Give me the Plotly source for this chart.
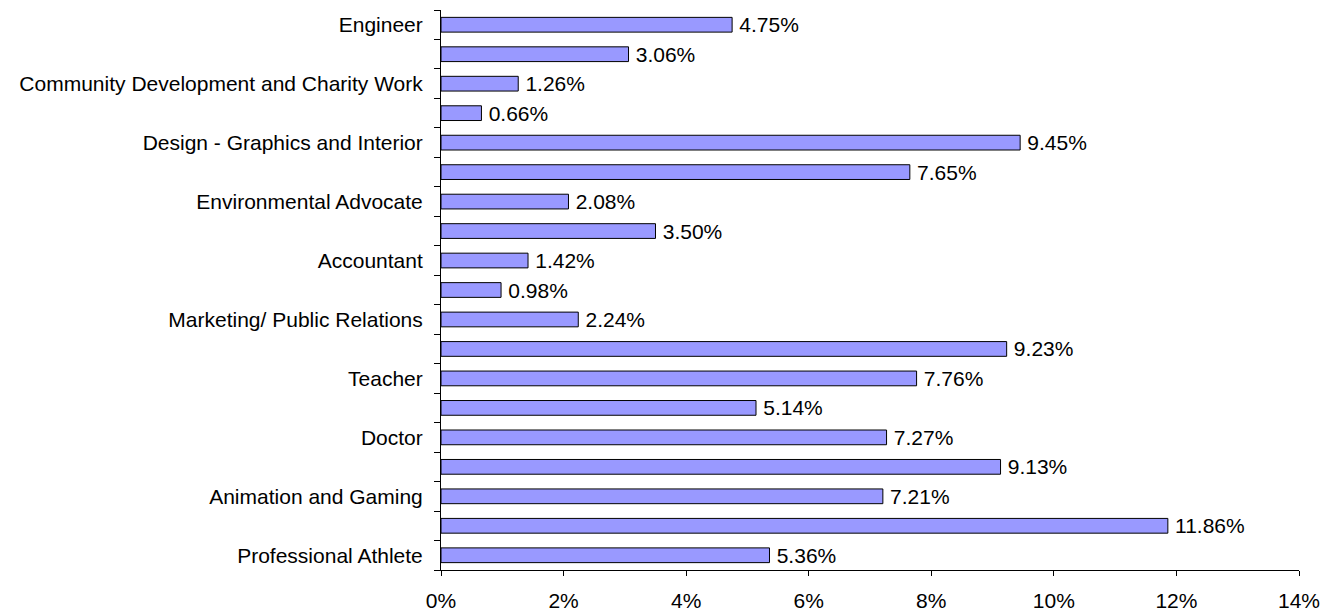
import plotly.graph_objects as go

# categories from bottom to top ("" = label not shown in the reference)
categories = ["Professional Athlete", "", "Animation and Gaming", "", "Doctor", "",
              "Teacher", "", "Marketing/ Public Relations", "", "Accountant", "",
              "Environmental Advocate", "", "Design - Graphics and Interior", "",
              "Community Development and Charity Work", "", "Engineer"]
values = [5.36, 11.86, 7.21, 9.13, 7.27, 5.14, 7.76, 9.23, 2.24, 0.98, 1.42, 3.50,
          2.08, 7.65, 9.45, 0.66, 1.26, 3.06, 4.75]
x_ticks = [0, 2, 4, 6, 8, 10, 12, 14]
x_labels = [f"{t}%" for t in x_ticks]

positions = list(range(len(categories)))
font = dict(family="Liberation Sans, Arial, sans-serif", size=21, color="black")

fig = go.Figure(go.Bar(
    x=values, y=positions, orientation="h",
    marker=dict(color="#9999FF", line=dict(color="black", width=1)),
    text=[f"\u2009{v:.2f}%" for v in values], textposition="outside",
    textfont=font, cliponaxis=False, width=0.5, constraintext="none",
))

fig.update_layout(
    width=1337, height=612,
    margin=dict(l=433, r=46, t=2, b=50),
    plot_bgcolor="white", paper_bgcolor="white",
    font=font, showlegend=False,
    xaxis=dict(range=[0, 14], tickvals=x_ticks, ticktext=x_labels,
               showgrid=False, zeroline=False, showline=True, linecolor="black",
               linewidth=1, ticks="outside", ticklen=5, tickcolor="black",
               tickfont=font, ticklabelstandoff=7),
    yaxis=dict(range=[-0.5, 18.5], tickvals=positions, ticktext=categories,
               showgrid=False, zeroline=False, showline=True, linecolor="black",
               linewidth=1, ticks="", tickfont=font, ticklabelstandoff=13,
               minor=dict(tick0=0.5, dtick=1, ticks="outside", ticklen=6,
                          tickcolor="black", showgrid=False)),
)

fig.write_html("out.html")
